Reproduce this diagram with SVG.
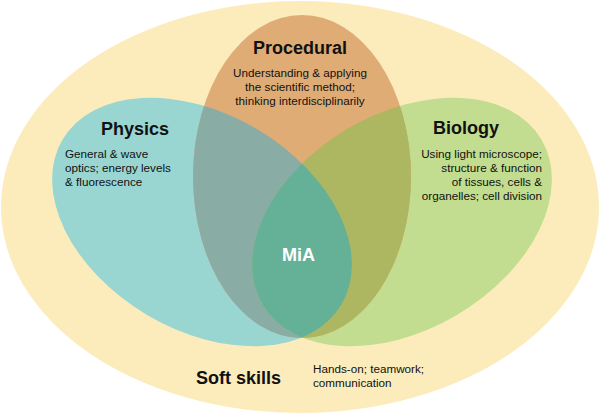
<svg xmlns="http://www.w3.org/2000/svg" xmlns:xlink="http://www.w3.org/1999/xlink" width="600" height="413" viewBox="0 0 600 413">
<style>
text{font-family:"Liberation Sans",Arial,sans-serif;fill:#111}
.h{font-weight:bold;font-size:18px}
.b{font-size:11.7px}
.c{text-anchor:middle}
.r{text-anchor:end}
</style>
<defs>
<ellipse id="eT" cx="202" cy="222" rx="162" ry="108" transform="rotate(30.6 202 222)"/>
<ellipse id="eG" cx="402" cy="222" rx="162" ry="108" transform="rotate(-30.6 402 222)"/>
<ellipse id="eO" cx="302" cy="176.5" rx="109" ry="161.5"/>
<clipPath id="cO"><use href="#eO"/></clipPath>
<clipPath id="cG"><use href="#eG"/></clipPath>
</defs>
<g id="soft-skills">
<ellipse cx="300" cy="207" rx="299" ry="206" fill="#FCECBC"/>
<text class="h" x="196" y="384">Soft skills</text>
<text class="b" x="313" y="373">Hands-on; teamwork;</text>
<text class="b" x="313" y="387">communication</text>
</g>
<g id="physics">
<use href="#eT" fill="#99D6D2"/>
</g>
<g id="biology">
<use href="#eG" fill="#C2DD8F"/>
</g>
<g id="procedural">
<use href="#eO" fill="#E0AC75"/>
</g>
<g id="overlaps">
<use href="#eT" fill="#89ACA4" clip-path="url(#cO)"/>
<use href="#eG" fill="#ADB762" clip-path="url(#cO)"/>
<use href="#eT" fill="#64B198" clip-path="url(#cG)"/>
</g>
<g id="labels">
<text class="h c" x="300" y="54">Procedural</text>
<text class="b c" x="300" y="77">Understanding &amp; applying</text>
<text class="b c" x="300" y="91">the scientific method;</text>
<text class="b c" x="300" y="105">thinking interdisciplinarily</text>
<text class="h" x="101" y="135">Physics</text>
<text class="b" x="65" y="158">General &amp; wave</text>
<text class="b" x="65" y="172">optics; energy levels</text>
<text class="b" x="65" y="186">&amp; fluorescence</text>
<text class="h" x="433" y="134">Biology</text>
<text class="b r" x="542" y="158">Using light microscope;</text>
<text class="b r" x="542" y="172">structure &amp; function</text>
<text class="b r" x="542" y="186">of tissues, cells &amp;</text>
<text class="b r" x="542" y="200">organelles; cell division</text>
<text class="h c" x="298.5" y="261" style="fill:#fff">MiA</text>
</g>
</svg>
